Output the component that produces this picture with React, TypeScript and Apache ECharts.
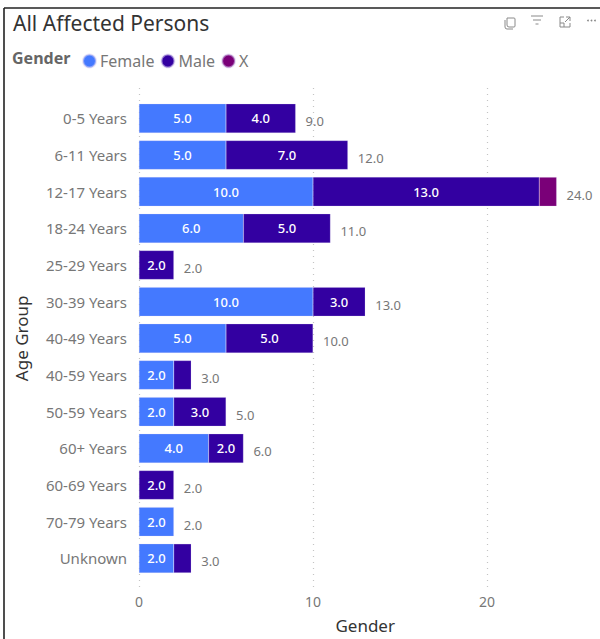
import React, { useEffect, useRef } from "react";
import * as echarts from "echarts";

const categories = ["0-5 Years","6-11 Years","12-17 Years","18-24 Years","25-29 Years","30-39 Years","40-49 Years","40-59 Years","50-59 Years","60+ Years","60-69 Years","70-79 Years","Unknown"];
const female = [5,5,10,6,null,10,5,2,2,4,null,2,2];
const male = [4,7,13,5,2,3,5,1,3,2,2,null,1];
const other = [null,null,1,null,null,null,null,null,null,null,null,null,null];
const totals = [9,12,24,11,2,13,10,3,5,6,2,2,3];
const xTicks = [0,10,20];

const FONT = "'Noto Sans', sans-serif";
const FEMALE = "#4479FF";
const MALE = "#3300A1";
const X = "#7A0078";
const GREY = "#777777";

const copyIcon = "M3 3 h7 a1 1 0 0 1 1 1 v7 a1 1 0 0 1 -1 1 h-5 a2 2 0 0 1 -2 -2 Z M1 5 v7 a2 2 0 0 0 2 2 h6";
const expandIcon = "M5 1 H1 V11 H11 V7 M7 1 H11 V5 M11 1 L6 6 M1 7 H5 V11";
echarts.graphic.registerShape("copyIcon", echarts.graphic.extendPath(copyIcon as any, {}) as any);
echarts.graphic.registerShape("expandIcon", echarts.graphic.extendPath(expandIcon as any, {}) as any);

function barSeries(name: string, data: (number | null)[], color: string) {
  return {
    name,
    type: "bar",
    stack: "total",
    xAxisIndex: 0,
    yAxisIndex: 0,
    barWidth: 29,
    data,
    itemStyle: { color, borderColor: "rgba(215,205,240,0.55)", borderWidth: 0.4 },
    label: {
      show: true,
      position: "inside",
      color: "#ffffff",
      fontFamily: FONT,
      fontSize: 13,
      fontWeight: 500,
      formatter: (p: any) => (p.value >= 2 ? Number(p.value).toFixed(1) : ""),
    },
  };
}

export default function App() {
  const ref = useRef<HTMLDivElement>(null);
  useEffect(() => {
    const chart = echarts.init(ref.current!, undefined, { renderer: "svg" });
    const iconStroke = { stroke: "#8a8a8a", fill: "none", lineWidth: 1 };
    chart.setOption({
      animation: false,
      backgroundColor: "#ffffff",
      title: {
        text: "All Affected Persons",
        left: 8,
        top: 7,
        textStyle: { fontFamily: FONT, fontSize: 21, fontWeight: 400, color: "#333333" },
      },
      legend: {
        left: 77,
        top: 48,
        itemWidth: 13,
        itemHeight: 13,
        itemGap: 6,
        icon: "circle",
        data: ["Female", "Male", "X"],
        textStyle: { fontFamily: FONT, fontSize: 16, color: GREY, padding: [0, 0, 0, -1] },
      },
      grid: [
        { left: 139, top: 100, width: 452.4, height: 476.7, outerBoundsMode: "none" },
        { left: 139, top: 88, width: 452.4, height: 502, outerBoundsMode: "none" },
      ],
      xAxis: [
        { type: "value", gridIndex: 0, min: 0, max: 26, interval: 10, show: false },
        {
          type: "value",
          gridIndex: 1,
          min: 0,
          max: 26,
          interval: 10,
          axisLine: { show: false },
          axisTick: { show: false },
          splitLine: { show: true, showMaxLine: false, lineStyle: { type: [1, 5], color: "#c4c4c4", width: 1.2 } },
          axisLabel: {
            color: GREY,
            fontFamily: FONT,
            fontSize: 14,
            margin: 4,
            showMaxLabel: false,
            formatter: (v: number) => (xTicks.includes(v) ? String(v) : ""),
          },
          name: "Gender",
          nameLocation: "middle",
          nameGap: 27,
          nameTextStyle: { color: "#333333", fontFamily: FONT, fontSize: 17 },
        },
      ],
      yAxis: [
        {
          type: "category",
          gridIndex: 0,
          inverse: true,
          data: categories,
          axisLine: { show: false },
          axisTick: { show: false },
          splitLine: { show: false },
          axisLabel: { color: GREY, fontFamily: FONT, fontSize: 15, margin: 12, interval: 0, padding: [0, 0, 2, 0] },
          name: "Age Group",
          nameLocation: "middle",
          nameGap: 109,
          nameTextStyle: { color: "#333333", fontFamily: FONT, fontSize: 17 },
        },
        { type: "category", gridIndex: 1, show: false, data: [""] },
      ],
      series: [
        barSeries("Female", female, FEMALE),
        barSeries("Male", male, MALE),
        barSeries("X", other, X),
        {
          name: "Total",
          type: "line",
          xAxisIndex: 0,
          yAxisIndex: 0,
          data: totals,
          symbol: "circle",
          symbolSize: 1,
          showSymbol: true,
          showAllSymbol: true,
          itemStyle: { color: "rgba(0,0,0,0)" },
          lineStyle: { opacity: 0 },
          silent: true,
          z: 5,
          label: {
            show: true,
            position: "right",
            distance: 9.5,
            offset: [0, 3],
            color: GREY,
            fontFamily: FONT,
            fontSize: 13,
            formatter: (p: any) => Number(p.value).toFixed(1),
          },
        },
      ],
      graphic: [
        { type: "line", shape: { x1: 4, y1: 8, x2: 4, y2: 639 }, style: { stroke: "#222222", lineWidth: 1.6 } },
        { type: "line", shape: { x1: 4, y1: 8, x2: 600, y2: 8 }, style: { stroke: "#222222", lineWidth: 1.4 } },
        {
          type: "text",
          left: 12,
          top: 50,
          style: { text: "Gender", fontFamily: FONT, fontSize: 16, fontWeight: 700, fill: "#666666" },
        },
        { type: "copyIcon", x: 504, y: 15, style: iconStroke },
        { type: "line", shape: { x1: 531, y1: 16, x2: 543, y2: 16 }, style: { stroke: "#8a8a8a", lineWidth: 1 } },
        { type: "line", shape: { x1: 533, y1: 20, x2: 541, y2: 20 }, style: { stroke: "#8a8a8a", lineWidth: 1 } },
        { type: "line", shape: { x1: 535.5, y1: 24, x2: 538.5, y2: 24 }, style: { stroke: "#8a8a8a", lineWidth: 1 } },
        { type: "expandIcon", x: 559, y: 16, style: iconStroke },
        { type: "circle", shape: { cx: 588, cy: 20.5, r: 0.9 }, style: { fill: "#8a8a8a" } },
        { type: "circle", shape: { cx: 591.5, cy: 20.5, r: 0.9 }, style: { fill: "#8a8a8a" } },
        { type: "circle", shape: { cx: 595, cy: 20.5, r: 0.9 }, style: { fill: "#8a8a8a" } },
      ],
    });
    return () => chart.dispose();
  }, []);
  return <div ref={ref} style={{ position: "fixed", left: 0, top: 0, width: 600, height: 639 }} />;
}
